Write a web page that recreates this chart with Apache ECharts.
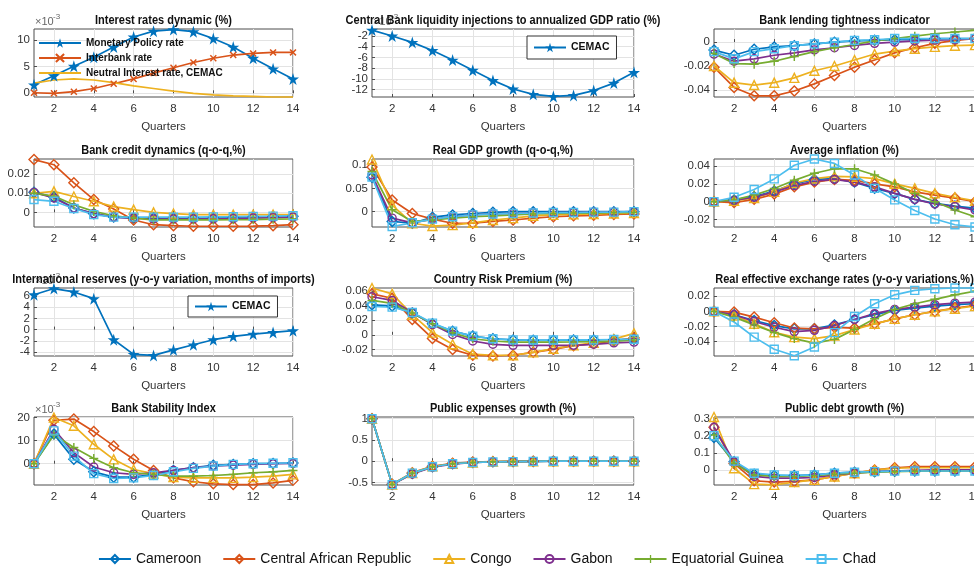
<!DOCTYPE html>
<html><head><meta charset="utf-8">
<script src="https://cdn.jsdelivr.net/npm/echarts@6/dist/echarts.min.js"></script>
<style>html,body{margin:0;padding:0;background:#fff}#c{width:974px;height:567px}</style>
</head><body><div id="c"></div>
<script>
// ---------------- DATA ----------------
const quarters = [1,2,3,4,5,6,7,8,9,10,11,12,13,14];
const xTickLabels = [2,4,6,8,10,12,14];
const countries = ['Cameroon','Central African Republic','Congo','Gabon','Equatorial Guinea','Chad'];

// Interest rates dynamic (x10^-3)
const policyRate    = [1.6,3.3,5.1,6.8,8.7,10.6,11.7,12.0,11.6,10.3,8.7,6.6,4.6,2.7];
const interbankRate = [0.1,0.0,0.3,0.9,1.8,2.7,3.8,4.8,5.8,6.6,7.2,7.5,7.7,7.7];
const neutralRate   = [1.9,2.5,2.7,2.5,2.0,1.4,0.9,0.4,0.0,-0.3,-0.5,-0.6,-0.7,-0.7];
// Central Bank liquidity injections (x10^-3)
const liquidityCEMAC = [-0.9,-2.0,-3.2,-4.7,-6.5,-8.4,-10.3,-11.9,-12.9,-13.3,-13.1,-12.2,-10.8,-8.8];
// International reserves (x10^-3)
const reservesCEMAC = [6.2,7.3,6.7,5.5,-1.8,-4.4,-4.6,-3.6,-2.7,-1.8,-1.2,-0.8,-0.5,-0.2];

// country panels, rows in order of `countries`
const lendingTightness = [
  [-0.0067,-0.011,-0.006,-0.004,-0.003,-0.0015,0,0.001,0.0015,0.002,0.002,0.003,0.003,0.003],
  [-0.021,-0.038,-0.045,-0.045,-0.041,-0.035,-0.028,-0.021,-0.015,-0.009,-0.0047,-0.001,0.0014,0.003],
  [-0.02,-0.034,-0.036,-0.034,-0.03,-0.024,-0.02,-0.015,-0.01,-0.0075,-0.0055,-0.004,-0.003,-0.0025],
  [-0.01,-0.016,-0.014,-0.011,-0.009,-0.0065,-0.0047,-0.0028,-0.001,0,0.001,0.0017,0.002,0.003],
  [-0.0095,-0.018,-0.0185,-0.016,-0.012,-0.008,-0.0047,-0.002,0.001,0.003,0.005,0.007,0.0085,0.01],
  [-0.008,-0.014,-0.008,-0.0055,-0.003,-0.0015,0,0.0015,0.002,0.003,0.003,0.003,0.003,0.003]
];
const creditDynamics = [
  [0.0105,0.008,0.0023,-0.0007,-0.0025,-0.003,-0.003,-0.003,-0.003,-0.003,-0.0028,-0.0025,-0.0022,-0.002],
  [0.0277,0.025,0.0155,0.0067,0.0018,-0.004,-0.0065,-0.007,-0.0073,-0.0073,-0.0073,-0.0072,-0.007,-0.0065],
  [0.010,0.011,0.0083,0.0058,0.003,0.0014,0,-0.0007,-0.0012,-0.0012,-0.0012,-0.0012,-0.0012,-0.0012],
  [0.0105,0.0075,0.0023,-0.0007,-0.0025,-0.003,-0.0035,-0.0035,-0.0035,-0.0034,-0.0033,-0.003,-0.0028,-0.0025],
  [0.010,0.0085,0.004,0.0005,-0.0018,-0.003,-0.004,-0.004,-0.004,-0.004,-0.0039,-0.0038,-0.0036,-0.0035],
  [0.0067,0.0058,0.002,-0.0012,-0.0025,-0.0025,-0.0025,-0.0025,-0.0025,-0.0024,-0.0023,-0.0021,-0.002,-0.0018]
];
const gdpGrowth = [
  [0.074,-0.021,-0.025,-0.012,-0.007,-0.004,-0.0015,0,0,0,0,0,0,0],
  [0.096,0.025,-0.004,-0.016,-0.025,-0.025,-0.021,-0.018,-0.014,-0.011,-0.009,-0.008,-0.006,-0.005],
  [0.112,0.014,-0.025,-0.031,-0.029,-0.024,-0.018,-0.014,-0.009,-0.007,-0.006,-0.005,-0.004,-0.003],
  [0.079,-0.014,-0.024,-0.016,-0.011,-0.007,-0.005,-0.004,-0.003,-0.002,-0.002,-0.001,-0.001,0],
  [0.086,0.004,-0.021,-0.018,-0.014,-0.011,-0.009,-0.007,-0.005,-0.004,-0.003,-0.003,-0.002,-0.002],
  [0.074,-0.032,-0.024,-0.016,-0.011,-0.007,-0.005,-0.004,-0.003,-0.002,-0.002,-0.001,-0.001,0]
];
const avgInflation = [
  [0,0.002,0.0056,0.012,0.020,0.025,0.026,0.022,0.015,0.0093,0.0026,-0.002,-0.005,-0.0074],
  [0,-0.001,0.0026,0.0085,0.0167,0.022,0.025,0.024,0.020,0.0167,0.011,0.0074,0.004,0],
  [0,0.001,0.004,0.011,0.021,0.026,0.0285,0.028,0.026,0.020,0.015,0.0093,0.005,0.001],
  [0,0.0015,0.005,0.011,0.018,0.023,0.025,0.022,0.0167,0.0093,0.0026,-0.0026,-0.0056,-0.0093],
  [0,0.002,0.0074,0.0148,0.024,0.032,0.037,0.037,0.030,0.020,0.0093,0,-0.0093,-0.017],
  [0,0.005,0.0137,0.0256,0.041,0.048,0.043,0.030,0.015,0.002,-0.010,-0.0195,-0.026,-0.0285]
];
const riskPremium = [
  [0.041,0.0395,0.0297,0.015,0.005,-0.0018,-0.0054,-0.007,-0.0075,-0.0075,-0.007,-0.007,-0.0068,-0.006],
  [0.056,0.05,0.021,-0.005,-0.02,-0.028,-0.029,-0.028,-0.024,-0.02,-0.015,-0.012,-0.0085,-0.004],
  [0.064,0.056,0.0275,0.003,-0.013,-0.0265,-0.028,-0.028,-0.024,-0.019,-0.0144,-0.011,-0.006,0.002],
  [0.052,0.047,0.0305,0.014,0.0005,-0.0085,-0.013,-0.0144,-0.0144,-0.0144,-0.0144,-0.013,-0.011,-0.01],
  [0.047,0.043,0.0297,0.015,0.0027,-0.0054,-0.0085,-0.01,-0.01,-0.01,-0.0098,-0.0095,-0.009,-0.007],
  [0.0387,0.0378,0.0305,0.016,0.005,-0.0018,-0.0054,-0.007,-0.0072,-0.0072,-0.007,-0.007,-0.0065,-0.006]
];
const reerVariation = [
  [0,-0.0044,-0.012,-0.0187,-0.023,-0.023,-0.0178,-0.0107,-0.0044,0.0013,0.0044,0.007,0.0089,0.0102],
  [0,-0.0009,-0.0075,-0.015,-0.022,-0.023,-0.021,-0.022,-0.0164,-0.0098,-0.0044,0,0.0044,0.008],
  [0,-0.0053,-0.0164,-0.0276,-0.034,-0.036,-0.032,-0.024,-0.0164,-0.0098,-0.0044,0,0.0036,0.007],
  [0,-0.0044,-0.0133,-0.021,-0.0267,-0.025,-0.0187,-0.0107,-0.003,0.0027,0.0058,0.0089,0.011,0.0124],
  [0,-0.0075,-0.0178,-0.028,-0.036,-0.042,-0.037,-0.024,-0.0098,0.0027,0.0102,0.016,0.022,0.0267],
  [0,-0.014,-0.034,-0.05,-0.0587,-0.047,-0.028,-0.0067,0.0102,0.022,0.0278,0.030,0.031,0.031]
];
const stabilityIndex = [ // x10^-3
  [0,12.8,1.9,-3.5,-5.8,-5.8,-4.6,-2.9,-1.7,-0.7,-0.3,0,0.1,0.3],
  [0,18.8,19.3,13.9,7.7,1.9,-2.9,-6.1,-7.8,-8.7,-9.0,-9.0,-8.3,-7.2],
  [0,20.0,16.4,8.4,1.9,-2.5,-4.3,-5.8,-6.1,-6.1,-6.1,-5.8,-5.4,-4.6],
  [0,14.9,4.8,-1.4,-3.9,-4.6,-3.9,-2.9,-1.7,-1.0,-0.6,-0.3,0,0.1],
  [0,12.5,7.0,2.3,-1.7,-3.9,-4.6,-5.4,-5.4,-5.1,-4.6,-3.9,-3.5,-2.9],
  [0,14.2,3.3,-4.3,-6.4,-6.1,-5.1,-3.5,-2.0,-1.0,-0.3,0,0.2,0.4]
];
const expensesGrowth = [
  [1.0,-0.55,-0.29,-0.13,-0.06,-0.03,-0.015,-0.01,-0.005,0,0,0,0,0],
  [1.0,-0.54,-0.27,-0.12,-0.05,-0.02,-0.01,-0.005,0,0,0,0,0,0],
  [1.0,-0.55,-0.28,-0.12,-0.06,-0.03,-0.01,-0.005,0,0,0,0,0,0],
  [1.0,-0.55,-0.30,-0.14,-0.07,-0.03,-0.015,-0.01,-0.005,0,0,0,0,0],
  [1.0,-0.55,-0.28,-0.13,-0.06,-0.03,-0.015,-0.01,-0.005,0,0,0,0,0],
  [1.0,-0.55,-0.28,-0.13,-0.06,-0.03,-0.015,-0.01,-0.005,0,0,0,0,0]
];
const debtGrowth = [
  [0.19,0.048,-0.025,-0.033,-0.033,-0.029,-0.019,-0.013,-0.01,-0.007,-0.006,-0.006,-0.006,-0.006],
  [0.25,0.038,-0.063,-0.071,-0.067,-0.058,-0.038,-0.019,0,0.013,0.019,0.019,0.019,0.019],
  [0.31,0.01,-0.083,-0.087,-0.071,-0.058,-0.038,-0.019,0,0.01,0.013,0.013,0.013,0.013],
  [0.25,0.048,-0.038,-0.048,-0.048,-0.044,-0.029,-0.019,-0.01,-0.006,-0.002,0,0,0],
  [0.205,0.038,-0.029,-0.038,-0.038,-0.033,-0.025,-0.019,-0.013,-0.01,-0.007,-0.006,-0.006,-0.006],
  [0.2,0.052,-0.019,-0.029,-0.033,-0.029,-0.019,-0.013,-0.01,-0.007,-0.006,-0.006,-0.006,-0.006]
];

// panel titles / y tick labels / y limits
const panelTitles = [
  'Interest rates dynamic (%)','Central Bank liquidity injections to annualized GDP ratio (%)','Bank lending tightness indicator',
  'Bank credit dynamics (q-o-q,%)','Real GDP growth (q-o-q,%)','Average inflation (%)',
  'International reserves (y-o-y variation, months of imports)','Country Risk Premium (%)','Real effective exchange rates (y-o-y variations,%)',
  'Bank Stability Index','Public expenses growth (%)','Public debt growth (%)'
];
const yTickLabels = [
  [0,5,10],[-12,-10,-8,-6,-4,-2],[-0.04,-0.02,0],
  [0,0.01,0.02],[0,0.05,0.1],[-0.02,0,0.02,0.04],
  [-4,-2,0,2,4,6],[-0.02,0,0.02,0.04,0.06],[-0.04,-0.02,0,0.02],
  [0,10,20],[-0.5,0,0.5,1],[0,0.1,0.2,0.3]
];
const yLimits = [
  [-0.7,12.1],[-13.4,-0.7],[-0.046,0.011],
  [-0.0077,0.028],[-0.033,0.113],[-0.0285,0.048],
  [-4.7,7.4],[-0.029,0.064],[-0.059,0.031],
  [-9.2,20.2],[-0.56,1.04],[-0.088,0.31]
];
const scaledPanels = [0,1,6,9]; // panels with x10^-3 exponent

// ---------------- STYLE / LAYOUT ----------------
const FONT = "'Liberation Sans',Arial,sans-serif";
const colors = ['#0072BD','#D95319','#EDB120','#7E2F8E','#77AC30','#4DBEEE'];
const STAR = 'path://M50,0L61,35L98,35L68,57L79,91L50,70L21,91L32,57L2,35L39,35Z';
const XMARK = 'path://M0,1.5L1.5,0L5,3.5L8.5,0L10,1.5L6.5,5L10,8.5L8.5,10L5,6.5L1.5,10L0,8.5L3.5,5Z';
const PLUS = 'path://M4.2,0H5.8V4.2H10V5.8H5.8V10H4.2V5.8H0V4.2H4.2Z';
const markers = [
  {symbol:'diamond', size:10, hollow:true},
  {symbol:'diamond', size:10, hollow:true},
  {symbol:'triangle', size:9, hollow:true},
  {symbol:'circle', size:8, hollow:true},
  {symbol:PLUS, size:9, hollow:false},
  {symbol:'rect', size:8, hollow:true}
];
const colLeft = [34, 372, 714];
const colWidth = [259, 262, 261];
const rowTop = [29, 159, 288, 417];
const boxH = 68;

function fmt(v){ return String(parseFloat(Number(v).toFixed(6))); }

const grids=[], xAxes=[], yAxes=[], series=[], graphics=[];
const labelBase = {fontFamily:FONT, fontSize:11.5, color:'#333', formatter:fmt,
  showMinLabel:true, showMaxLabel:true, hideOverlap:false};
for (let p=0;p<12;p++){
  const r=Math.floor(p/3), c=p%3;
  grids.push({left:colLeft[c], top:rowTop[r], width:colWidth[c], height:boxH, show:true,
    borderColor:'#4d4d4d', borderWidth:1, backgroundColor:'rgba(0,0,0,0)', containLabel:false,
    outerBoundsMode:'none'});
  xAxes.push({type:'value', gridIndex:p, min:1, max:14,
    axisLine:{show:false},
    axisTick:{show:true, inside:true, length:3, customValues:xTickLabels, lineStyle:{color:'#4d4d4d'}},
    axisLabel:Object.assign({customValues:xTickLabels, margin:6}, labelBase),
    splitLine:{show:true, lineStyle:{color:'#e3e3e3', width:1}},
    name:'Quarters', nameLocation:'middle', nameGap:24,
    nameTextStyle:{fontFamily:FONT, fontSize:11.5, color:'#333'}
  });
  const ticks = yTickLabels[p];
  const evenT = ticks.filter((v,i)=>i%2===0), oddT = ticks.filter((v,i)=>i%2===1);
  // primary y axis (ticks, grid lines, every other label)
  yAxes.push({type:'value', gridIndex:p, position:'left', min:yLimits[p][0], max:yLimits[p][1],
    axisLine:{show:false},
    axisTick:{show:true, inside:true, length:3, customValues:ticks, lineStyle:{color:'#4d4d4d'}},
    axisLabel:Object.assign({customValues:evenT, margin:4}, labelBase),
    splitLine:{show:true, lineStyle:{color:'#e3e3e3', width:1}}
  });
  // secondary y axis carrying the remaining labels (avoids automatic overlap hiding)
  yAxes.push({type:'value', gridIndex:p, position:'left', offset:0, min:yLimits[p][0], max:yLimits[p][1],
    axisLine:{show:false}, axisTick:{show:false}, splitLine:{show:false},
    axisLabel:Object.assign({customValues:oddT.length?oddT:[yLimits[p][0]-1], margin:4}, labelBase)
  });
  const cx = colLeft[c] + colWidth[c]/2;
  if (scaledPanels.includes(p)){
    graphics.push({type:'text', x:colLeft[c]+1, y:rowTop[r]-2, z:1, style:{text:'×10', font:'11px '+FONT, fill:'#666', textVerticalAlign:'bottom'}});
    graphics.push({type:'text', x:colLeft[c]+19, y:rowTop[r]-8, z:1, style:{text:'-3', font:'8px '+FONT, fill:'#666', textVerticalAlign:'bottom'}});
  }
  graphics.push({type:'text', x:cx, y:rowTop[r]-2, scaleX:0.88, z:5,
    style:{text:panelTitles[p], font:'bold 12.5px '+FONT, fill:'#111', textAlign:'center', textVerticalAlign:'bottom'}});
}

function pts(vals){ return quarters.map((q,i)=>[q, vals[i]]); }
function addLine(p, name, vals, color, mk){
  const s = {type:'line', name, xAxisIndex:p, yAxisIndex:2*p, data:pts(vals),
    symbol:mk?mk.symbol:'none', symbolSize:mk?mk.size:0, showAllSymbol:true, clip:false,
    lineStyle:{color, width:1.7}, animation:false, emphasis:{disabled:true}};
  if (mk){
    s.itemStyle = mk.hollow ? {color:'rgba(255,255,255,0)', borderColor:color, borderWidth:1.4}
                            : {color, borderWidth:0};
  } else s.itemStyle = {color};
  series.push(s);
}
// panel 1
addLine(0,'Monetary Policy rate', policyRate, colors[0], {symbol:STAR,size:12,hollow:false});
addLine(0,'Interbank rate', interbankRate, colors[1], {symbol:XMARK,size:7,hollow:false});
addLine(0,'Neutral Interest rate, CEMAC', neutralRate, colors[2], null);
// panels 2,7
addLine(1,'CEMAC', liquidityCEMAC, colors[0], {symbol:STAR,size:12,hollow:false});
addLine(6,'CEMAC', reservesCEMAC, colors[0], {symbol:STAR,size:12,hollow:false});
// country panels
const countryPanels = [[2,lendingTightness],[3,creditDynamics],[4,gdpGrowth],[5,avgInflation],
  [7,riskPremium],[8,reerVariation],[9,stabilityIndex],[10,expensesGrowth],[11,debtGrowth]];
countryPanels.forEach(([p,arr])=>{
  arr.forEach((vals,k)=> addLine(p, countries[k], vals, colors[k], markers[k]));
});

const option = {
  backgroundColor:'#fff',
  animation:false,
  grid:grids, xAxis:xAxes, yAxis:yAxes, series,
  legend:[
    {data:countries, left:'center', top:547, itemWidth:32, itemHeight:10, itemGap:21,
     textStyle:{fontFamily:FONT, fontSize:14, color:'#111'}, selectedMode:false},
    {data:['Monetary Policy rate','Interbank rate',{name:'Neutral Interest rate, CEMAC', itemStyle:{opacity:0}}],
     orient:'vertical', left:38, top:38, itemWidth:42, itemHeight:12, itemGap:5, padding:0, selectedMode:false,
     textStyle:{fontFamily:FONT, fontSize:10, fontWeight:'bold', color:'#111'}},
    {data:['CEMAC'], left:527, top:36, itemWidth:32, itemHeight:12, padding:[6,7,6,6], selectedMode:false,
     borderColor:'#333', borderWidth:1, backgroundColor:'#fff',
     textStyle:{fontFamily:FONT, fontSize:10.5, fontWeight:'bold', color:'#111'}},
    {data:['CEMAC'], left:188, top:296, itemWidth:32, itemHeight:12, padding:[5,7,5,6], selectedMode:false,
     borderColor:'#333', borderWidth:1, backgroundColor:'#fff',
     textStyle:{fontFamily:FONT, fontSize:10.5, fontWeight:'bold', color:'#111'}}
  ],
  graphic:graphics
};
const chart = echarts.init(document.getElementById('c'), null, {renderer:'canvas'});
chart.setOption(option);
</script></body></html>
